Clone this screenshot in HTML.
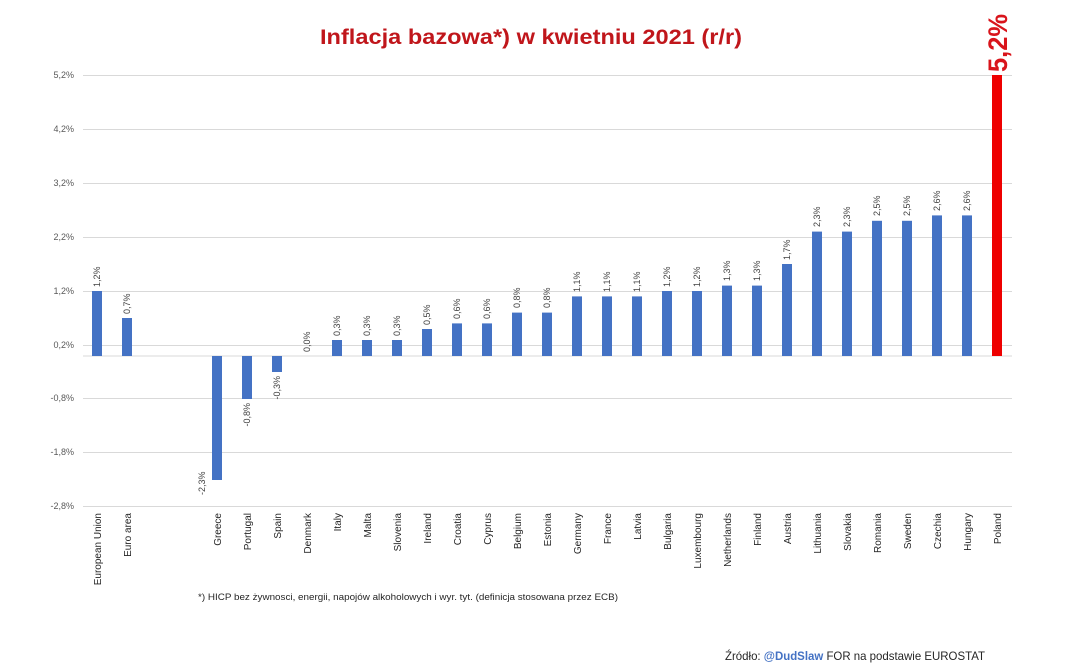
<!DOCTYPE html>
<html><head><meta charset="utf-8"><style>
html,body{margin:0;padding:0;background:#fff;}
svg{display:block;font-family:"Liberation Sans",sans-serif;}
</style></head><body>
<svg width="1080" height="670" viewBox="0 0 1080 670">
<rect width="1080" height="670" fill="#fff"/>
<text x="531" y="44" text-anchor="middle" font-size="21" font-weight="bold" fill="#c0161b" textLength="422" lengthAdjust="spacingAndGlyphs">Inflacja bazowa*) w kwietniu 2021 (r/r)</text>
<g stroke="#d9d9d9" stroke-width="1">
<line x1="83" y1="75.5" x2="1012" y2="75.5"/>
<line x1="83" y1="129.5" x2="1012" y2="129.5"/>
<line x1="83" y1="183.5" x2="1012" y2="183.5"/>
<line x1="83" y1="237.5" x2="1012" y2="237.5"/>
<line x1="83" y1="291.5" x2="1012" y2="291.5"/>
<line x1="83" y1="345.5" x2="1012" y2="345.5"/>
<line x1="83" y1="398.5" x2="1012" y2="398.5"/>
<line x1="83" y1="452.5" x2="1012" y2="452.5"/>
<line x1="83" y1="506.5" x2="1012" y2="506.5"/>
<line x1="83" y1="356" x2="1012" y2="356"/>
</g>
<g font-size="9" fill="#595959" text-anchor="end">
<text x="74" y="78">5,2%</text>
<text x="74" y="132">4,2%</text>
<text x="74" y="186">3,2%</text>
<text x="74" y="240">2,2%</text>
<text x="74" y="294">1,2%</text>
<text x="74" y="348">0,2%</text>
<text x="74" y="401">-0,8%</text>
<text x="74" y="455">-1,8%</text>
<text x="74" y="509">-2,8%</text>
</g>
<g fill="#4472c4">
<rect x="92" y="291" width="10" height="65"/>
<rect x="122" y="318" width="10" height="38"/>
<rect x="212" y="356" width="10" height="124"/>
<rect x="242" y="356" width="10" height="43"/>
<rect x="272" y="356" width="10" height="16"/>
<rect x="332" y="340" width="10" height="16"/>
<rect x="362" y="340" width="10" height="16"/>
<rect x="392" y="340" width="10" height="16"/>
<rect x="422" y="329" width="10" height="27"/>
<rect x="452" y="323.4" width="10" height="32.6"/>
<rect x="482" y="323.4" width="10" height="32.6"/>
<rect x="512" y="312.6" width="10" height="43.4"/>
<rect x="542" y="312.6" width="10" height="43.4"/>
<rect x="572" y="296.4" width="10" height="59.6"/>
<rect x="602" y="296.4" width="10" height="59.6"/>
<rect x="632" y="296.4" width="10" height="59.6"/>
<rect x="662" y="291" width="10" height="65"/>
<rect x="692" y="291" width="10" height="65"/>
<rect x="722" y="285.6" width="10" height="70.4"/>
<rect x="752" y="285.6" width="10" height="70.4"/>
<rect x="782" y="264" width="10" height="92"/>
<rect x="812" y="231.6" width="10" height="124.4"/>
<rect x="842" y="231.6" width="10" height="124.4"/>
<rect x="872" y="220.8" width="10" height="135.2"/>
<rect x="902" y="220.8" width="10" height="135.2"/>
<rect x="932" y="215.4" width="10" height="140.6"/>
<rect x="962" y="215.4" width="10" height="140.6"/>
</g>
<rect x="992" y="75" width="10" height="281" fill="#ee0000"/>
<g font-size="9" fill="#404040">
<text transform="translate(100,287) rotate(-90)">1,2%</text>
<text transform="translate(130,314) rotate(-90)">0,7%</text>
<text transform="translate(205,495) rotate(-90)">-2,3%</text>
<text transform="translate(250,403) rotate(-90)" text-anchor="end">-0,8%</text>
<text transform="translate(280,376) rotate(-90)" text-anchor="end">-0,3%</text>
<text transform="translate(310,352) rotate(-90)">0,0%</text>
<text transform="translate(340,336) rotate(-90)">0,3%</text>
<text transform="translate(370,336) rotate(-90)">0,3%</text>
<text transform="translate(400,336) rotate(-90)">0,3%</text>
<text transform="translate(430,325) rotate(-90)">0,5%</text>
<text transform="translate(460,319) rotate(-90)">0,6%</text>
<text transform="translate(490,319) rotate(-90)">0,6%</text>
<text transform="translate(520,308) rotate(-90)">0,8%</text>
<text transform="translate(550,308) rotate(-90)">0,8%</text>
<text transform="translate(580,292) rotate(-90)">1,1%</text>
<text transform="translate(610,292) rotate(-90)">1,1%</text>
<text transform="translate(640,292) rotate(-90)">1,1%</text>
<text transform="translate(670,287) rotate(-90)">1,2%</text>
<text transform="translate(700,287) rotate(-90)">1,2%</text>
<text transform="translate(730,281) rotate(-90)">1,3%</text>
<text transform="translate(760,281) rotate(-90)">1,3%</text>
<text transform="translate(790,260) rotate(-90)">1,7%</text>
<text transform="translate(820,227) rotate(-90)">2,3%</text>
<text transform="translate(850,227) rotate(-90)">2,3%</text>
<text transform="translate(880,216) rotate(-90)">2,5%</text>
<text transform="translate(910,216) rotate(-90)">2,5%</text>
<text transform="translate(940,211) rotate(-90)">2,6%</text>
<text transform="translate(970,211) rotate(-90)">2,6%</text>
</g>
<text transform="translate(1007,72) rotate(-90)" font-size="27" font-weight="bold" fill="#d9141b" textLength="58" lengthAdjust="spacingAndGlyphs">5,2%</text>
<g font-size="10" fill="#262626" text-anchor="end">
<text transform="translate(101,513) rotate(-90)">European Union</text>
<text transform="translate(131,513) rotate(-90)">Euro area</text>
<text transform="translate(221,513) rotate(-90)">Greece</text>
<text transform="translate(251,513) rotate(-90)">Portugal</text>
<text transform="translate(281,513) rotate(-90)">Spain</text>
<text transform="translate(311,513) rotate(-90)">Denmark</text>
<text transform="translate(341,513) rotate(-90)">Italy</text>
<text transform="translate(371,513) rotate(-90)">Malta</text>
<text transform="translate(401,513) rotate(-90)">Slovenia</text>
<text transform="translate(431,513) rotate(-90)">Ireland</text>
<text transform="translate(461,513) rotate(-90)">Croatia</text>
<text transform="translate(491,513) rotate(-90)">Cyprus</text>
<text transform="translate(521,513) rotate(-90)">Belgium</text>
<text transform="translate(551,513) rotate(-90)">Estonia</text>
<text transform="translate(581,513) rotate(-90)">Germany</text>
<text transform="translate(611,513) rotate(-90)">France</text>
<text transform="translate(641,513) rotate(-90)">Latvia</text>
<text transform="translate(671,513) rotate(-90)">Bulgaria</text>
<text transform="translate(701,513) rotate(-90)">Luxembourg</text>
<text transform="translate(731,513) rotate(-90)">Netherlands</text>
<text transform="translate(761,513) rotate(-90)">Finland</text>
<text transform="translate(791,513) rotate(-90)">Austria</text>
<text transform="translate(821,513) rotate(-90)">Lithuania</text>
<text transform="translate(851,513) rotate(-90)">Slovakia</text>
<text transform="translate(881,513) rotate(-90)">Romania</text>
<text transform="translate(911,513) rotate(-90)">Sweden</text>
<text transform="translate(941,513) rotate(-90)">Czechia</text>
<text transform="translate(971,513) rotate(-90)">Hungary</text>
<text transform="translate(1001,513) rotate(-90)">Poland</text>
</g>
<text x="198" y="600" font-size="9" fill="#262626" textLength="420" lengthAdjust="spacingAndGlyphs">*)  HICP bez żywnosci, energii, napojów alkoholowych i wyr. tyt. (definicja stosowana przez ECB)</text>
<text x="725" y="660" font-size="12" fill="#262626" textLength="260" lengthAdjust="spacingAndGlyphs">Źródło: <tspan fill="#4472c4" font-weight="bold">@DudSlaw</tspan> FOR na podstawie  EUROSTAT</text>
</svg>
</body></html>
